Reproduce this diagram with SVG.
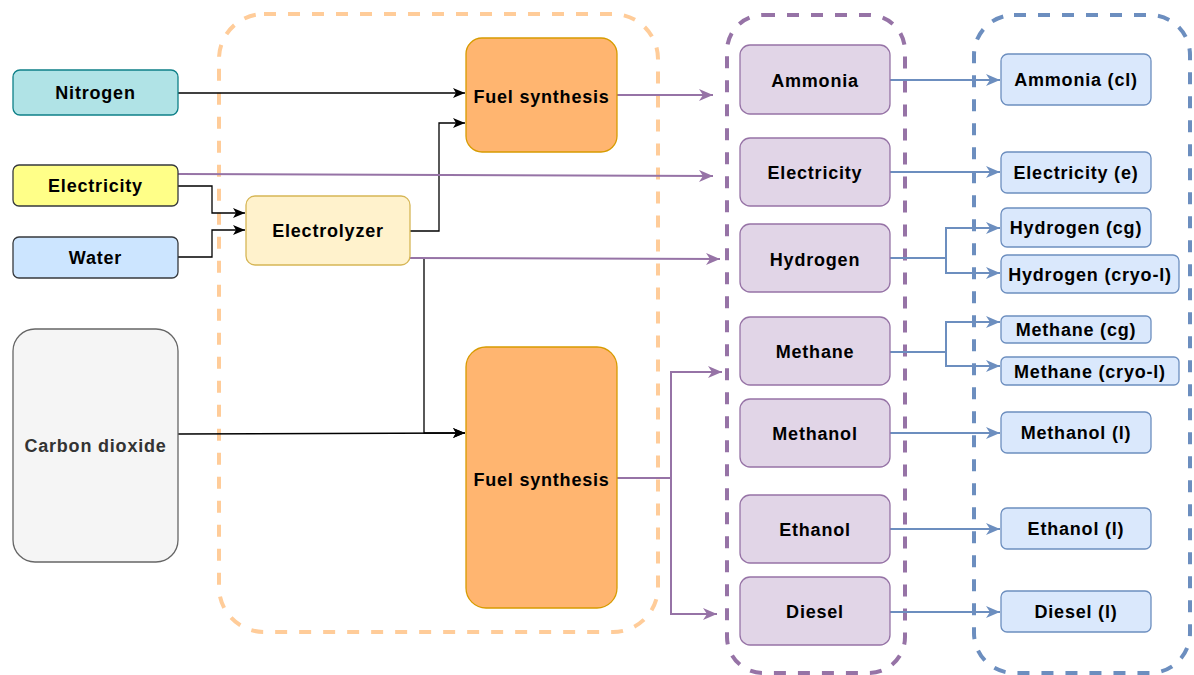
<svg xmlns="http://www.w3.org/2000/svg" width="1194" height="675" viewBox="0 0 1194 675">
<style>
text{font-family:"Liberation Sans",Arial,Helvetica,sans-serif;font-weight:bold;font-size:18px;letter-spacing:0.8px;text-anchor:middle;fill:#000}
.cont{fill:none;stroke-width:4;stroke-dasharray:12 12}
.pn rect{fill:#e1d5e7;stroke:#9673a6;stroke-width:1.3}
.bn rect{fill:#dae8fc;stroke:#6c8ebf;stroke-width:1.3}
.blk{fill:none;stroke:#000;stroke-width:1.3;marker-end:url(#ak)}
.pur{fill:none;stroke:#9673a6;stroke-width:2;marker-end:url(#ap)}
.pur0{fill:none;stroke:#9673a6;stroke-width:2}
.blu{fill:none;stroke:#6c8ebf;stroke-width:2;marker-end:url(#ab)}
.blu0{fill:none;stroke:#6c8ebf;stroke-width:2}
</style>
<defs>
<marker id="ak" viewBox="0 0 12 10" refX="12" refY="5" markerWidth="12" markerHeight="10" markerUnits="userSpaceOnUse" orient="auto"><path d="M0,0 L12,5 L0,10 L3,5 Z" fill="#000"/></marker>
<marker id="ap" viewBox="0 0 14 12" refX="14" refY="6" markerWidth="14" markerHeight="12" markerUnits="userSpaceOnUse" orient="auto"><path d="M0,0 L14,6 L0,12 L4,6 Z" fill="#9673a6"/></marker>
<marker id="ab" viewBox="0 0 14 12" refX="14" refY="6" markerWidth="14" markerHeight="12" markerUnits="userSpaceOnUse" orient="auto"><path d="M0,0 L14,6 L0,12 L4,6 Z" fill="#6c8ebf"/></marker>
</defs>
<rect width="1194" height="675" fill="#fff"/>
<g id="containers">
<rect class="cont" x="219" y="14" width="439" height="618" rx="45" stroke="#ffcc99"/>
<rect class="cont" x="727" y="15" width="178" height="658" rx="36" stroke="#9673a6"/>
<rect class="cont" x="974" y="15" width="216" height="658" rx="40" stroke="#6c8ebf"/>
</g>
<g id="connectors">
<path class="blk" d="M178,93 L465,93"/>
<path class="blk" d="M178,186 L212,186 L212,213 L245,213"/>
<path class="blk" d="M178,257 L212,257 L212,230 L245,230"/>
<path class="blk" d="M410,231 L439,231 L439,123 L465,123"/>
<path class="blk" d="M424,258 L424,433 L465,433"/>
<path class="blk" d="M178,434 L465,433"/>
<path class="pur" d="M617,95 L713,95"/>
<path class="pur" d="M178,174 L713,176"/>
<path class="pur" d="M410,258 L720,259"/>
<path class="pur0" d="M617,478 L671,478"/>
<path class="pur" d="M671,478 L671,372 L722,372"/>
<path class="pur" d="M671,478 L671,614 L717,614"/>
<path class="blu" d="M890,80 L1000,80"/>
<path class="blu" d="M890,172 L1000,172"/>
<path class="blu0" d="M890,258 L946,258"/>
<path class="blu" d="M946,258 L946,228 L1000,228"/>
<path class="blu" d="M946,258 L946,273 L1000,273"/>
<path class="blu0" d="M890,352 L946,352"/>
<path class="blu" d="M946,352 L946,322 L1000,322"/>
<path class="blu" d="M946,352 L946,366 L1000,366"/>
<path class="blu" d="M890,433 L1000,433"/>
<path class="blu" d="M890,529 L1000,529"/>
<path class="blu" d="M890,612 L1000,612"/>
</g>
<g id="nitrogen"><rect x="13" y="70" width="165" height="45" rx="7" fill="#b0e3e6" stroke="#0e8088" stroke-width="1.3"/><text x="95.5" y="99">Nitrogen</text></g>
<g id="electricity-in"><rect x="13" y="165" width="165" height="41" rx="6" fill="#ffff88" stroke="#36393d" stroke-width="1.3"/><text x="95.5" y="192">Electricity</text></g>
<g id="water"><rect x="13" y="237" width="165" height="41" rx="6" fill="#cce5ff" stroke="#36393d" stroke-width="1.3"/><text x="95.5" y="264">Water</text></g>
<g id="co2"><rect x="13" y="329" width="165" height="233" rx="22" fill="#f5f5f5" stroke="#666" stroke-width="1.3"/><text x="95.5" y="452" style="fill:#333">Carbon dioxide</text></g>
<g id="fuel-synthesis-1"><rect x="466" y="38" width="151" height="114" rx="16" fill="#ffb570" stroke="#d79b00" stroke-width="1.3"/><text x="541.5" y="103">Fuel synthesis</text></g>
<g id="electrolyzer"><rect x="246" y="196" width="164" height="69" rx="9" fill="#fff2cc" stroke="#d6b656" stroke-width="1.3"/><text x="328" y="237">Electrolyzer</text></g>
<g id="fuel-synthesis-2"><rect x="466" y="347" width="151" height="261" rx="20" fill="#ffb570" stroke="#d79b00" stroke-width="1.3"/><text x="541.5" y="486">Fuel synthesis</text></g>
<g id="ammonia" class="pn"><rect x="740" y="45" width="150" height="69" rx="10"/><text x="815" y="87">Ammonia</text></g>
<g id="electricity" class="pn"><rect x="740" y="138" width="150" height="68" rx="10"/><text x="815" y="179">Electricity</text></g>
<g id="hydrogen" class="pn"><rect x="740" y="224" width="150" height="68" rx="10"/><text x="815" y="266">Hydrogen</text></g>
<g id="methane" class="pn"><rect x="740" y="317" width="150" height="68" rx="10"/><text x="815" y="358">Methane</text></g>
<g id="methanol" class="pn"><rect x="740" y="399" width="150" height="68" rx="10"/><text x="815" y="440">Methanol</text></g>
<g id="ethanol" class="pn"><rect x="740" y="495" width="150" height="68" rx="10"/><text x="815" y="536">Ethanol</text></g>
<g id="diesel" class="pn"><rect x="740" y="577" width="150" height="68" rx="10"/><text x="815" y="618">Diesel</text></g>
<g id="ammonia-cl" class="bn"><rect x="1001" y="54" width="150" height="51" rx="7"/><text x="1076" y="86">Ammonia (cl)</text></g>
<g id="electricity-e" class="bn"><rect x="1001" y="152" width="150" height="41" rx="6"/><text x="1076" y="179">Electricity (e)</text></g>
<g id="hydrogen-cg" class="bn"><rect x="1001" y="208" width="150" height="39" rx="6"/><text x="1076" y="234">Hydrogen (cg)</text></g>
<g id="hydrogen-cryo" class="bn"><rect x="1001" y="255" width="178" height="38" rx="6"/><text x="1090" y="281">Hydrogen (cryo-l)</text></g>
<g id="methane-cg" class="bn"><rect x="1001" y="316" width="150" height="27" rx="5"/><text x="1076" y="336">Methane (cg)</text></g>
<g id="methane-cryo" class="bn"><rect x="1001" y="357" width="178" height="28" rx="5"/><text x="1090" y="378">Methane (cryo-l)</text></g>
<g id="methanol-l" class="bn"><rect x="1001" y="412" width="150" height="41" rx="6"/><text x="1076" y="439">Methanol (l)</text></g>
<g id="ethanol-l" class="bn"><rect x="1001" y="508" width="150" height="41" rx="6"/><text x="1076" y="535">Ethanol (l)</text></g>
<g id="diesel-l" class="bn"><rect x="1001" y="591" width="150" height="41" rx="6"/><text x="1076" y="618">Diesel (l)</text></g>
</svg>
